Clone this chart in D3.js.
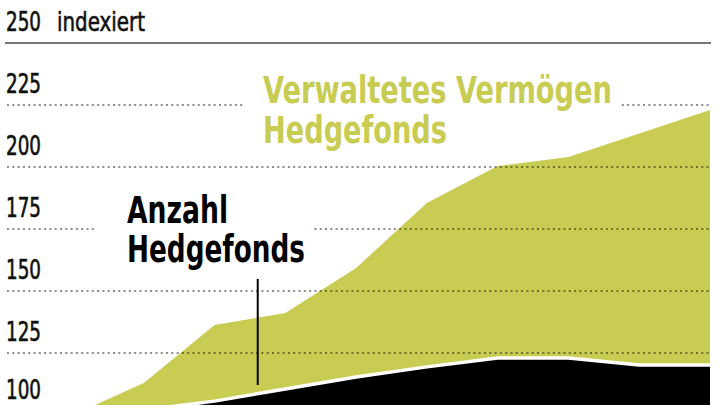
<!DOCTYPE html>
<html><head><meta charset="utf-8">
<script src="https://cdn.jsdelivr.net/npm/d3@7"></script>
<style>
html,body{margin:0;padding:0;background:#fff;}
svg{display:block;}
text{font-family:"Liberation Sans Narrow","Arial Narrow","DejaVu Sans Condensed",sans-serif;}
</style></head>
<body>
<svg id="chart" width="720" height="405"></svg>
<script>
// Data (index, first period = 100)
const periods = [0,1,2,3,4,5,6,7,8,9];
const assetsIndex = [100, 112.9, 136.3, 141.1, 159.3, 185.5, 200.4, 204.0, 213.5, 223.0]; // Verwaltetes Vermögen
const fundsIndex  = [100, 102.0, 105.6, 110.5, 115.3, 119.4, 123.0, 123.0, 120.2, 120.2]; // Anzahl Hedgefonds
const yTicks = [250, 225, 200, 175, 150, 125, 100];
const unitLabel = "indexiert";
const labelAssets = ["Verwaltetes Vermögen", "Hedgefonds"];
const labelFunds = ["Anzahl", "Hedgefonds"];

const svg = d3.select("#chart");
const x = d3.scaleLinear().domain([0, 9]).range([73, 710]);
const y = d3.scaleLinear().domain([100, 250]).range([415, 43]);

const green = "#c8cc52";

// areas
const areaGen = d3.area().x((d,i)=>x(periods[i])).y0(y(100)).y1(d=>y(d));
svg.append("path").datum(assetsIndex).attr("d", areaGen).attr("fill", green);
svg.append("path").datum(fundsIndex).attr("d", areaGen).attr("fill", "#000");
svg.append("path").datum(fundsIndex)
  .attr("d", d3.line().x((d,i)=>x(periods[i])).y(d=>y(d)))
  .attr("fill","none").attr("stroke","#fff").attr("stroke-width",3.5);

// gridlines
const grid = svg.append("g");
yTicks.forEach(t=>{
  const yy = Math.round(y(t));
  if (t === 250) {
    grid.append("line").attr("x1",5).attr("x2",711).attr("y1",yy).attr("y2",yy)
      .attr("stroke","#777").attr("stroke-width",2);
  } else {
    grid.append("line").attr("x1",7).attr("x2",710).attr("y1",yy).attr("y2",yy)
      .attr("stroke","rgba(0,0,0,0.45)").attr("stroke-width",2)
      .attr("stroke-dasharray","2,3.3");
  }
  svg.append("text").attr("x",6).attr("y",Math.min(yy-12, 399))
    .attr("font-size",26).attr("fill","#111")
    .attr("stroke","#111").attr("stroke-width",0.6)
    .attr("textLength",35).attr("lengthAdjust","spacingAndGlyphs").text(t);
});
svg.append("text").attr("x",57).attr("y",y(250)-12)
  .attr("font-size",26).attr("fill","#111")
  .attr("stroke","#111").attr("stroke-width",0.6)
  .attr("textLength",88).attr("lengthAdjust","spacingAndGlyphs").text(unitLabel);

// knockouts for labels on gridlines
svg.append("rect").attr("x",243).attr("y",y(225)-6).attr("width",378).attr("height",12).attr("fill","#fff");
svg.append("rect").attr("x",97).attr("y",y(175)-6).attr("width",214).attr("height",12).attr("fill","#fff");

// series labels (two lines each, one text element)
const tA = svg.append("text").attr("font-weight","bold").attr("fill", green).attr("font-size",37);
tA.append("tspan").attr("x",263).attr("y",103).attr("textLength",349).attr("lengthAdjust","spacingAndGlyphs").text(labelAssets[0]);
tA.append("tspan").attr("x",263).attr("y",143).attr("textLength",184).attr("lengthAdjust","spacingAndGlyphs").text(labelAssets[1]);

const tF = svg.append("text").attr("font-weight","bold").attr("fill","#000").attr("font-size",37);
tF.append("tspan").attr("x",127).attr("y",223).attr("textLength",101).attr("lengthAdjust","spacingAndGlyphs").text(labelFunds[0]);
tF.append("tspan").attr("x",127).attr("y",262).attr("textLength",178).attr("lengthAdjust","spacingAndGlyphs").text(labelFunds[1]);

// pointer line
svg.append("line").attr("x1",x(2.61)).attr("x2",x(2.61)).attr("y1",279).attr("y2",385)
  .attr("stroke","#000").attr("stroke-width",2);
</script>
</body></html>
